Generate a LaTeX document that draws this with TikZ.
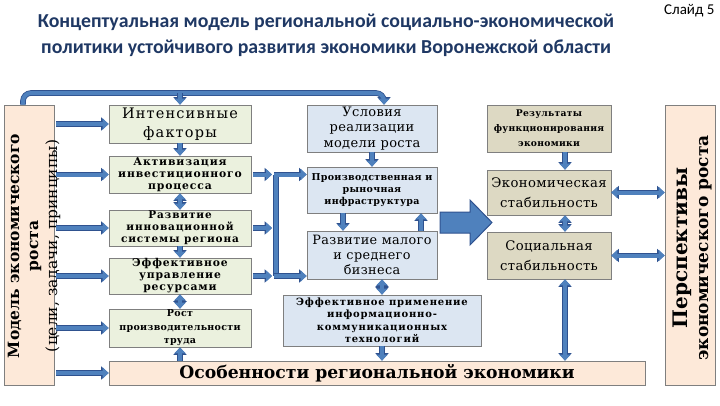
\documentclass[tikz,border=0pt]{standalone}
\usepackage{fontspec}
\setmainfont{DejaVu Serif}
\newfontfamily\titlefont{Carlito}
\newfontfamily\bx[LetterSpace=8]{DejaVu Serif}
\newfontfamily\bm[LetterSpace=3]{DejaVu Serif}
\usetikzlibrary{arrows.meta,calc}
\definecolor{navy}{HTML}{1F3864}
\definecolor{arrowblue}{HTML}{4F81BD}
\definecolor{arrowdark}{HTML}{2F528F}
\definecolor{greenbox}{HTML}{EBF1DE}
\definecolor{bluebox}{HTML}{DCE6F2}
\definecolor{tanbox}{HTML}{DDD9C3}
\definecolor{peach}{HTML}{FDE9D9}
\definecolor{bordergray}{HTML}{7F7F7F}
\tikzset{
  box/.style={draw=bordergray, line width=0.8pt, inner sep=0pt, align=center},
  gbox/.style={box, fill=greenbox},
  bbox/.style={box, fill=bluebox},
  tbox/.style={box, fill=tanbox},
  pbox/.style={box, fill=peach},
  arr/.style={draw=arrowblue, line width=4pt,
     preaction={draw=arrowdark, line width=5.6pt, -{Triangle[width=13pt,length=7.5pt]}},
     -{Triangle[width=11pt,length=6pt]}},
  darr/.style={draw=arrowblue, line width=4pt,
     preaction={draw=arrowdark, line width=5.6pt, {Triangle[width=13pt,length=7.5pt]}-{Triangle[width=13pt,length=7.5pt]}},
     {Triangle[width=11pt,length=6pt]}-{Triangle[width=11pt,length=6pt]}},
  line/.style={draw=arrowblue, line width=4pt, preaction={draw=arrowdark, line width=5.6pt}},
}
\begin{document}
\begin{tikzpicture}[x=1pt,y=-1pt]
\useasboundingbox (0,0) rectangle (720,405);
% title
\node[font=\titlefont\bfseries\fontsize{19.8}{26}\selectfont, text=navy, align=center] (title) at (326,35)
  {Концептуальная модель региональной социально-экономической\\политики устойчивого развития экономики Воронежской области};
\node[font=\titlefont\fontsize{15}{15}\selectfont, anchor=east] (slide) at (718,11) {Слайд 5};
% left big box
\node[pbox, minimum width=50, minimum height=280] (model) at (29,245) {};
\node[rotate=90, align=center, font=\fontsize{15.5}{19}\selectfont] (modeltxt) at (34,246)
  {\textbf{Модель экономического}\\\textbf{роста}\\(цели, задачи, принципы)};
% right big box
\node[pbox, minimum width=50, minimum height=280] (persp) at (690,245) {};
\node[rotate=90, align=center, font=\bfseries\fontsize{20}{21}\selectfont] (persptxt) at (692,248)
  {Перспективы\\{\fontsize{17}{21}\selectfont экономического роста}};
% left column
\node[gbox, minimum width=142, minimum height=38, font=\bx\fontsize{14.5}{19}\selectfont] (intens) at (180,124) {Интенсивные\\факторы};
\node[gbox, minimum width=142, minimum height=37, font=\bx\bfseries\fontsize{10.8}{12}\selectfont] (aktiv) at (180,174.5) {Активизация\\инвестиционного\\процесса};
\node[gbox, minimum width=142, minimum height=36, font=\bx\bfseries\fontsize{10.5}{12}\selectfont] (razv) at (180,228) {Развитие\\инновационной\\системы региона};
\node[gbox, minimum width=142, minimum height=36, font=\bx\bfseries\fontsize{10.8}{12}\selectfont] (effupr) at (180,276) {Эффективное\\управление\\ресурсами};
\node[gbox, minimum width=142, minimum height=38, font=\bm\bfseries\fontsize{9.5}{13.5}\selectfont] (rost) at (180,328) {Рост\\производительности\\труда};
\node[pbox, minimum width=536, minimum height=24, font=\bfseries\fontsize{17.2}{20}\selectfont] (osob) at (377,373) {Особенности региональной экономики};
% middle column
\node[bbox, minimum width=130, minimum height=47, font=\bm\fontsize{13}{15.5}\selectfont] (uslov) at (372,128.5) {Условия\\реализации\\модели роста};
\node[bbox, minimum width=130, minimum height=46, font=\bm\bfseries\fontsize{9.5}{12}\selectfont] (proizv) at (372,190) {Производственная и\\рыночная\\инфраструктура};
\node[bbox, minimum width=130, minimum height=48, font=\bm\fontsize{12.8}{15}\selectfont] (msb) at (372,255) {Развитие малого\\и среднего\\бизнеса};
\node[bbox, minimum width=198, minimum height=51, font=\bx\bfseries\fontsize{10}{12.5}\selectfont] (ikt) at (382,320.5) {Эффективное применение\\информационно-\\коммуникационных\\технологий};
% right column
\node[tbox, minimum width=124, minimum height=47, font=\bm\bfseries\fontsize{9.2}{15}\selectfont] (rez) at (549,128.5) {Результаты\\функционирования\\экономики};
\node[tbox, minimum width=124, minimum height=45, font=\bm\fontsize{13.2}{20}\selectfont] (econ) at (549,192.5) {Экономическая\\стабильность};
\node[tbox, minimum width=124, minimum height=47, font=\bm\fontsize{13.2}{20}\selectfont] (soc) at (549,255.5) {Социальная\\стабильность};
% top connector
\coordinate (topL) at ($(model.north)+(-6,0)$);
\coordinate (topR) at ($(uslov.north)+(12,0)$);
\coordinate (topbar) at (0,93);
\draw[arr, rounded corners=8] (topL) |- (topbar -| topR) -- (topR);
\draw[arr] (intens.north |- topbar) -- (intens.north);
% left box to column
\foreach \n in {intens,aktiv,razv,effupr,rost,osob}
  \draw[arr] (model.east |- \n.west) ++(2,0) -- (\n.west);
% left column vertical
\draw[arr] (intens.south) -- (aktiv.north);
\draw[darr] (aktiv.south) -- (razv.north);
\draw[arr] (razv.south) -- (effupr.north);
\draw[darr] (effupr.south) -- (rost.north);
\draw[arr] (rost.south |- osob.north) -- (rost.south);
% bracket
\coordinate (bk) at (276,0);
\foreach \n in {aktiv,razv,effupr}
  \draw[arr] (\n.east) ++(2,0) -- ($(bk |- \n.east)+(-4,0)$);
\draw[line] (bk |- aktiv.east) -- (bk |- effupr.east);
\draw[arr] ($(bk |- aktiv.east)+(-2,0)$) -- (proizv.west |- aktiv.east);
\draw[arr] ($(bk |- effupr.east)+(-2,0)$) -- (msb.west |- effupr.east);
% middle vertical
\draw[arr] (uslov.south) -- (proizv.north);
\draw[arr] ($(proizv.south)+(-29,0)$) -- ($(msb.north)+(-29,0)$);
\draw[arr] ($(msb.north)+(49,0)$) -- ($(proizv.south)+(49,0)$);
\draw[darr] (ikt.north |- msb.south) -- (ikt.north);
\draw[arr] (ikt.south) -- (ikt.south |- osob.north);
% big arrow
\filldraw[fill=arrowblue, draw=arrowdark, line width=1pt] (440,212) -- (470,212) -- (470,200) -- (492,222.5) -- (470,245) -- (470,233) -- (440,233) -- cycle;
% right column
\coordinate (rx) at (565,0);
\draw[arr] (rx |- rez.south) -- (rx |- econ.north);
\draw[darr] (rx |- econ.south) -- (rx |- soc.north);
\draw[darr] (rx |- soc.south) -- (rx |- osob.north);
\draw[darr] (econ.east) -- (persp.west |- econ.east);
\draw[darr] (soc.east) -- (persp.west |- soc.east);
\end{tikzpicture}
\end{document}
